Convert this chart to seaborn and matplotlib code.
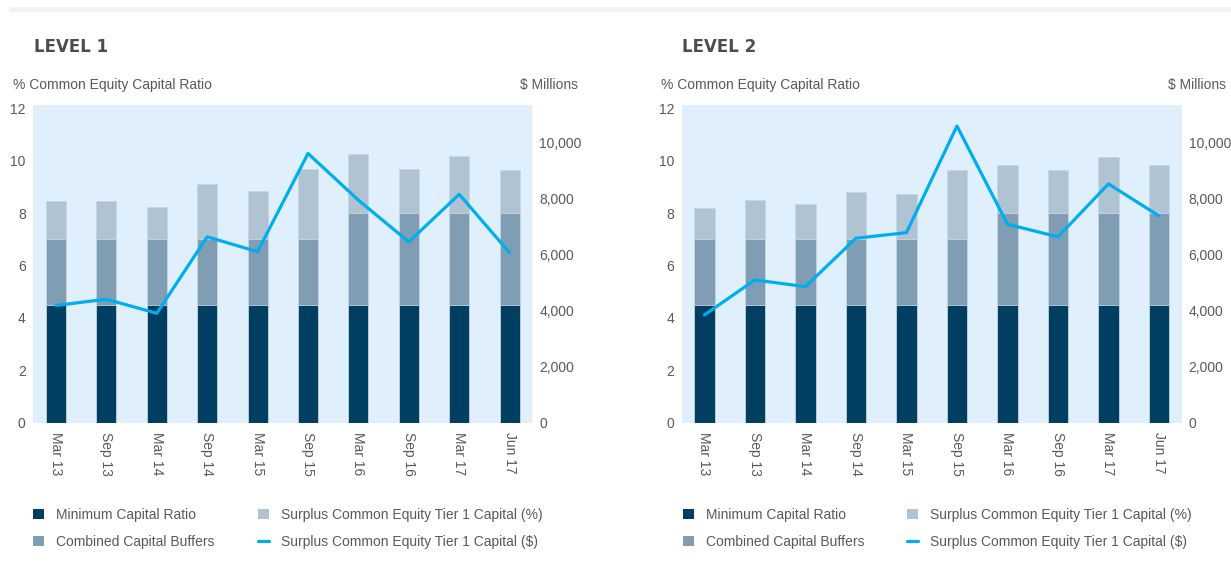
"""Capital ratio composition and surplus CET1 capital, Level 1 and Level 2 groups."""

import matplotlib
matplotlib.use("Agg")

import matplotlib.pyplot as plt
import numpy as np
import pandas as pd
import seaborn as sns
from matplotlib.lines import Line2D
from matplotlib.patches import Patch, Rectangle


PERIODS = ["Mar 13", "Sep 13", "Mar 14", "Sep 14", "Mar 15",
           "Sep 15", "Mar 16", "Sep 16", "Mar 17", "Jun 17"]

# % of risk-weighted assets
MIN_RATIO = [4.5, 4.5, 4.5, 4.5, 4.5, 4.5, 4.5, 4.5, 4.5, 4.5]
L1_BUFFERS = [2.5, 2.5, 2.5, 2.5, 2.5, 2.5, 3.5, 3.5, 3.5, 3.5]
L1_SURPLUS_PCT = [1.45, 1.45, 1.25, 2.1, 1.85, 2.7, 2.25, 1.7, 2.2, 1.65]
L2_BUFFERS = [2.5, 2.5, 2.5, 2.5, 2.5, 2.5, 3.5, 3.5, 3.5, 3.5]
L2_SURPLUS_PCT = [1.2, 1.5, 1.35, 1.8, 1.75, 2.65, 1.85, 1.65, 2.15, 1.85]

# $ millions
L1_SURPLUS_USD = [4190, 4410, 3910, 6640, 6110, 9620, 7950, 6460, 8160, 6070]
L2_SURPLUS_USD = [3850, 5100, 4860, 6590, 6790, 10600, 7090, 6640, 8530, 7390]

NAVY = "#013F62"
STEEL = "#7F9DB3"
PALE = "#B0C3D3"
CYAN = "#00AEEF"
PLOT_BG = "#DFF0FC"
TEXT = "#58595B"
TITLE = "#4D4D4D"
FONT = ["Liberation Sans", "DejaVu Sans"]

LEGEND_LABELS = [
    "Minimum Capital Ratio",
    "Combined Capital Buffers",
    "Surplus Common Equity Tier 1 Capital (%)",
    "Surplus Common Equity Tier 1 Capital ($)",
]

W, H = 1231, 573


def fx(px):
    return px / W


def fy(py):
    return 1 - py / H


def panel(fig, rect, title, buffers, surplus_pct, surplus_usd, spots):
    df = pd.DataFrame({
        "period": PERIODS,
        "minimum": MIN_RATIO,
        "buffers": buffers,
        "surplus": surplus_pct,
    })
    df["with_buffers"] = df["minimum"] + df["buffers"]
    df["total"] = df["with_buffers"] + df["surplus"]

    ax = fig.add_axes(rect)
    ax.set_facecolor(PLOT_BG)
    for col, color in [("total", PALE), ("with_buffers", STEEL), ("minimum", NAVY)]:
        sns.barplot(data=df, x="period", y=col, color=color, width=0.4,
                    saturation=1, linewidth=0.6, edgecolor="#C9D6E0",
                    ax=ax, order=PERIODS)
    ax.set_ylim(0, 12.13)
    ax.set_yticks(range(0, 13, 2))
    ax.set_xlabel("")
    ax.set_ylabel("")
    ax.tick_params(axis="y", length=0, pad=5.5, labelsize=10, labelcolor=TEXT)
    ax.tick_params(axis="x", length=0, pad=7, labelsize=10, labelcolor=TEXT,
                   labelrotation=270)

    ax2 = ax.twinx()
    sns.lineplot(x=np.arange(len(PERIODS)), y=surplus_usd, color=CYAN,
                 linewidth=2.3, ax=ax2)
    ax2.set_ylim(0, 11350)
    ax2.set_yticks(range(0, 10001, 2000))
    ax2.set_yticklabels([f"{v:,}" for v in range(0, 10001, 2000)])
    ax2.tick_params(axis="y", length=0, pad=5, labelsize=10, labelcolor=TEXT)
    ax2.set_ylabel("")
    ax.set_xlim(-0.45, 9.45)
    ax2.set_xlim(-0.45, 9.45)
    for a in (ax, ax2):
        for s in a.spines.values():
            s.set_visible(False)
        a.grid(False)

    fig.text(fx(spots["title"]), fy(46.7), title, fontsize=12, fontweight="bold",
             color=TITLE, va="center", ha="left", family="DejaVu Sans")
    fig.text(fx(spots["ylabel"]), fy(85), "% Common Equity Capital Ratio",
             fontsize=10, color=TEXT, va="center", ha="left")
    fig.text(fx(spots["ylabel2"]), fy(85), "$ Millions",
             fontsize=10, color=TEXT, va="center", ha="right")

    squares = [Patch(facecolor=c, edgecolor="none") for c in (NAVY, STEEL, PALE)]
    line = Line2D([], [], color=CYAN, linewidth=2.3)
    kw = dict(frameon=False, loc="center left", fontsize=10, handlelength=0.8,
              handleheight=0.8, handletextpad=0.85, labelspacing=0.95,
              borderpad=0, borderaxespad=0, labelcolor=TEXT,
              bbox_transform=fig.transFigure)
    # one legend per axes so neither is drawn twice
    ax.legend(squares[:2], LEGEND_LABELS[:2],
              bbox_to_anchor=(fx(spots["leg1"]), fy(528.3)), **kw)
    ax2.legend([squares[2], line], LEGEND_LABELS[2:],
               bbox_to_anchor=(fx(spots["leg2"]), fy(528.3)), **kw)


def main():
    sns.set_theme(style="white")
    plt.rcParams["font.family"] = FONT

    fig = plt.figure(figsize=(W / 100, H / 100), dpi=100)
    fig.patches.append(Rectangle((fx(9), fy(12.3)), 1 - fx(9), (12.3 - 6.7) / H,
                                 transform=fig.transFigure, facecolor="#EEF4F9",
                                 edgecolor="none", zorder=0))

    bottom = fy(422.7)
    height = 317.7 / H
    panel(fig, [fx(33.3), bottom, 499 / W, height], "LEVEL 1",
          L1_BUFFERS, L1_SURPLUS_PCT, L1_SURPLUS_USD,
          {"title": 34.4, "ylabel": 13.3, "ylabel2": 578.3, "leg1": 32.8, "leg2": 257.7})
    panel(fig, [fx(681.7), bottom, 500 / W, height], "LEVEL 2",
          L2_BUFFERS, L2_SURPLUS_PCT, L2_SURPLUS_USD,
          {"title": 682.5, "ylabel": 661, "ylabel2": 1226, "leg1": 683.3, "leg2": 906.9})

    fig.savefig("out.png", dpi=100, facecolor="white")


if __name__ == "__main__":
    main()
